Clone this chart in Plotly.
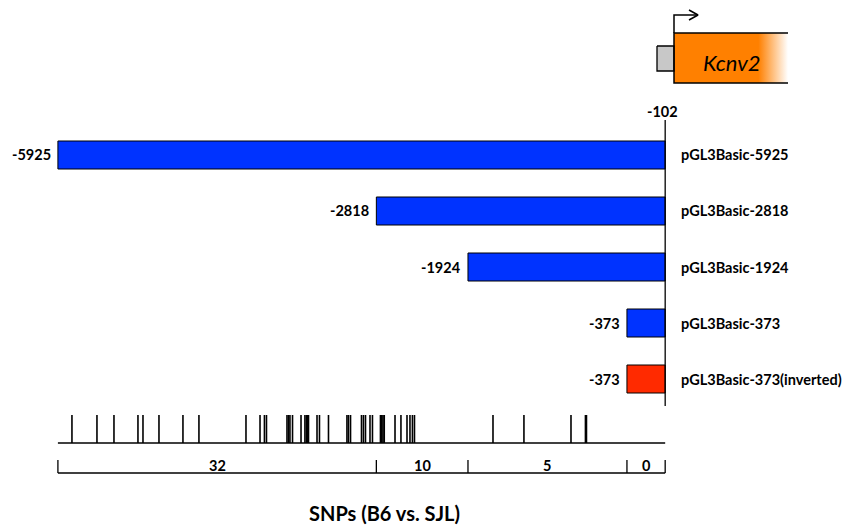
import plotly.graph_objects as go

# ---------------- data ----------------
constructs = ["pGL3Basic-5925", "pGL3Basic-2818", "pGL3Basic-1924", "pGL3Basic-373", "pGL3Basic-373(inverted)"]
starts = [-5925, -2818, -1924, -373, -373]
end_pos = 0            # bars drawn up to the -102 line
end_label = "-102"
bar_colors = ["#0033ff", "#0033ff", "#0033ff", "#0033ff", "#ff2a00"]

snp_positions = [
    -5788, -5544, -5378, -5144, -5095, -4939, -4705, -4549, -4090, -3953,
    -3910, -3890, -3690, -3675, -3661, -3636, -3553, -3515, -3500, -3490,
    -3480, -3397, -3373, -3285, -3105, -3090, -3070, -2963, -2944, -2924,
    -2880, -2856,
    -2778, -2765, -2753, -2741, -2636, -2578, -2519, -2490, -2466, -2446,
    -1680, -1378, -919, -778, -768,
]
bracket_bounds = [-5925, -2818, -1924, -373, 0]
snp_counts = ["32", "10", "5", "0"]
track_title = "SNPs (B6 vs. SJL)"
gene_name = "Kcnv2"

FONT = "Lato"
W, H = 851, 525

fig = go.Figure()

# bars
fig.add_trace(go.Bar(
    orientation="h", y=constructs, x=[end_pos - s for s in starts], base=starts,
    width=0.5, marker=dict(color=bar_colors, line=dict(color="black", width=1)),
    xaxis="x", yaxis="y", showlegend=False, hoverinfo="skip"))

# SNP ticks
sx, sy = [], []
for p in snp_positions:
    sx += [p, p, None]
    sy += [443, 415, None]
fig.add_trace(go.Scatter(x=sx, y=sy, mode="lines", line=dict(color="black", width=1.6),
                         xaxis="x", yaxis="y2", showlegend=False, hoverinfo="skip"))
# SNP baseline
fig.add_trace(go.Scatter(x=[bracket_bounds[0], bracket_bounds[-1]], y=[443, 443], mode="lines",
                         line=dict(color="black", width=1.5), xaxis="x", yaxis="y2",
                         showlegend=False, hoverinfo="skip"))
# brackets
bx, by = [bracket_bounds[0], bracket_bounds[-1], None], [473, 473, None]
for b in bracket_bounds:
    bx += [b, b, None]
    by += [460, 473, None]
fig.add_trace(go.Scatter(x=bx, y=by, mode="lines", line=dict(color="black", width=1.3),
                         xaxis="x", yaxis="y2", showlegend=False, hoverinfo="skip"))

# vertical reference line at construct end
fig.add_trace(go.Scatter(x=[end_pos, end_pos], y=[120, 406], mode="lines",
                         line=dict(color="black", width=1.3), xaxis="x", yaxis="y2",
                         showlegend=False, hoverinfo="skip"))

# ----- gene diagram (pixel overlay axis x3/y2) -----
fig.add_trace(go.Scatter(x=[674, 788, 788, 674, 674], y=[33, 33, 83, 83, 33], mode="lines",
                         fill="toself", line=dict(width=0, color="rgba(0,0,0,0)"),
                         fillgradient=dict(type="horizontal",
                                           colorscale=[[0, "#ff8000"], [0.74, "#ff8000"], [1, "#ffffff"]]),
                         xaxis="x3", yaxis="y2", showlegend=False, hoverinfo="skip"))
fig.add_trace(go.Scatter(x=[657, 674, 674, 657, 657], y=[46, 46, 71, 71, 46], mode="lines",
                         fill="toself", fillcolor="#c8c8c8", line=dict(color="black", width=1.3),
                         xaxis="x3", yaxis="y2", showlegend=False, hoverinfo="skip"))
fig.add_trace(go.Scatter(x=[788, 674, 674, 788, None, 674, 674, 698, None, 689, 698, 689],
                         y=[33, 33, 83, 83, None, 33, 15, 15, None, 10, 15, 20], mode="lines",
                         line=dict(color="black", width=1.5),
                         xaxis="x3", yaxis="y2", showlegend=False, hoverinfo="skip"))

annotations = []
bold = dict(family=FONT, size=14.5, color="black", weight="bold")
for name, s in zip(constructs, starts):
    annotations.append(dict(x=s, y=name, xref="x", yref="y", text=str(s), showarrow=False,
                            xanchor="right", xshift=-5, font=bold))
    annotations.append(dict(x=end_pos, y=name, xref="x", yref="y", text=name, showarrow=False,
                            xanchor="left", xshift=14, font=bold))
annotations.append(dict(x=end_pos, y=111, xref="x", yref="y2", text=end_label, showarrow=False,
                        xanchor="center", xshift=-3, font=bold))
for i, c in enumerate(snp_counts):
    annotations.append(dict(x=(bracket_bounds[i] + bracket_bounds[i + 1]) / 2, y=465, xref="x", yref="y2",
                            text=c, showarrow=False, font=bold))
annotations.append(dict(x=384, y=513, xref="x3", yref="y2", text=track_title, showarrow=False,
                        font=dict(family=FONT, size=20, color="black", weight="bold")))
annotations.append(dict(x=731, y=62, xref="x3", yref="y2", text=gene_name, showarrow=False,
                        font=dict(family=FONT, size=22, color="black", style="italic")))

hidden = dict(visible=False, showgrid=False, zeroline=False, fixedrange=True)
fig.update_layout(
    width=W, height=H, margin=dict(l=0, r=0, t=0, b=0),
    paper_bgcolor="white", plot_bgcolor="rgba(0,0,0,0)",
    xaxis=dict(range=[-6490, 1813], domain=[0, 1], anchor="y", **hidden),
    yaxis=dict(type="category", categoryorder="array", categoryarray=constructs,
               range=[4.5, -0.5], domain=[1 - 407 / H, 1 - 127 / H], anchor="x", **hidden),
    yaxis2=dict(range=[H, 0], domain=[0, 1], anchor="x", **hidden),
    xaxis3=dict(range=[0, W], domain=[0, 1], anchor="y2", **hidden),
    annotations=annotations,
    barmode="overlay",
)
fig.write_html("out.html")
